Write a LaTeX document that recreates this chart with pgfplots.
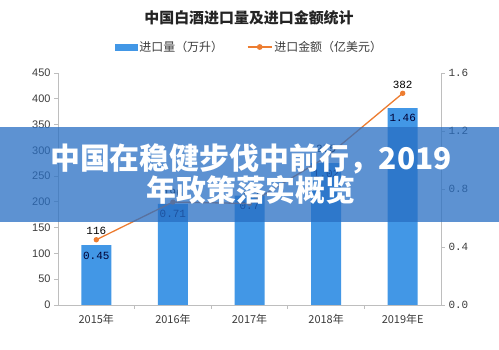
\documentclass[border=0pt]{standalone}
\usepackage{fontspec}
\usepackage{pgfplots}
\pgfplotsset{compat=1.18}
\setmainfont{Liberation Sans}
\newfontfamily\cjk{Noto Sans CJK SC}
\newfontfamily\mono{Liberation Mono}
\definecolor{barblue}{RGB}{66,151,230}
\definecolor{lineorange}{RGB}{237,125,49}
\definecolor{bannerblue}{RGB}{40,110,195}
\definecolor{axgray}{RGB}{190,190,190}
\definecolor{txtgray}{RGB}{60,60,60}
\begin{document}
\begin{tikzpicture}
\fill[white] (0bp,0bp) rectangle (499bp,350bp);
\useasboundingbox (0bp,0bp) rectangle (499bp,350bp);
\node[font=\cjk\bfseries\fontsize{15}{15}\selectfont, text=txtgray!60!black] at (249bp,332bp) {中国白酒进口量及进口金额统计};
\begin{axis}[at={(58bp,45bp)}, anchor=south west, scale only axis,
  width=383bp, height=232bp,
  xmin=-0.5, xmax=4.5, ymin=0, ymax=450,
  ytick={0,50,...,450},
  xtick={0,...,4},
  xticklabels={2015年,2016年,2017年,2018年,2019年E},
  minor xtick={0.5,1.5,2.5,3.5},
  axis y line*=left, axis x line*=bottom,
  axis line style={axgray, line width=0.8pt, -},
  tick style={axgray, line width=0.8pt},
  major x tick style={draw=none},
  minor tick length=4bp, major tick length=4bp,
  tick align=outside,
  /pgf/number format/assume math mode=true,
  yticklabel style={font=\fontsize{11}{11}\selectfont, text=txtgray},
  xticklabel style={font=\cjk\fontsize{11}{11}\selectfont, text=txtgray, yshift=-2bp},
  clip=false,
]
\addplot[ybar, bar width=30bp, fill=barblue, draw=none,
  nodes near coords, point meta=explicit symbolic,
  every node near coord/.append style={anchor=north, yshift=-3bp,
    font=\mono\fontsize{11}{11}\selectfont, text=black!80!blue}]
  coordinates {(0,116)[0.45] (1,196)[0.71] (2,212)[0.7] (3,275)[1.02] (4,382)[1.46]};
\end{axis}
\begin{axis}[at={(58bp,45bp)}, anchor=south west, scale only axis,
  width=383bp, height=232bp,
  xmin=-0.5, xmax=4.5, ymin=0, ymax=1.6,
  ytick={0,0.4,...,1.6},
  axis y line*=right, axis x line=none,
  axis line style={axgray, line width=0.8pt, -},
  tick style={axgray, line width=0.8pt},
  major tick length=4bp, tick align=outside,
  /pgf/number format/assume math mode=true,
  yticklabel style={font=\mono\fontsize{11}{11}\selectfont, text=txtgray,
    /pgf/number format/.cd, fixed, fixed zerofill, precision=1},
  clip=false,
  legend style={at={(0.5,1.112)}, anchor=center, draw=none, fill=none,
    legend columns=2, font=\cjk\fontsize{12}{12}\selectfont, text=txtgray,
    /tikz/every even column/.append style={column sep=22bp}},
]
\addlegendimage{legend image code/.code={\fill[barblue] (0bp,-3bp) rectangle (22bp,3bp);}}
\addlegendentry{进口量（万升）}
\addplot[lineorange, line width=1.3pt, mark=*, mark size=2bp,
  mark options={fill=lineorange},
  legend image code/.code={\draw[lineorange, line width=1.3pt] (0bp,0bp)--(24bp,0bp); \fill[lineorange] (12bp,0bp) circle (2.2bp);},
  nodes near coords, point meta=explicit symbolic,
  every node near coord/.append style={anchor=south, yshift=1bp,
    font=\mono\fontsize{11}{11}\selectfont, text=black}]
  coordinates {(0,0.45)[116] (1,0.71)[196] (2,0.70)[212] (3,1.02)[275] (4,1.46)[382]};
\addlegendentry{进口金额（亿美元）}
\end{axis}
\fill[bannerblue, opacity=0.75] (0bp,128bp) rectangle (499bp,223bp);
\node[text=white, font=\cjk\bfseries\fontsize{30}{32}\selectfont, align=center] at (251bp,176bp) {中国在稳健步伐中前行，2019\\年政策落实概览};
\end{tikzpicture}
\end{document}
